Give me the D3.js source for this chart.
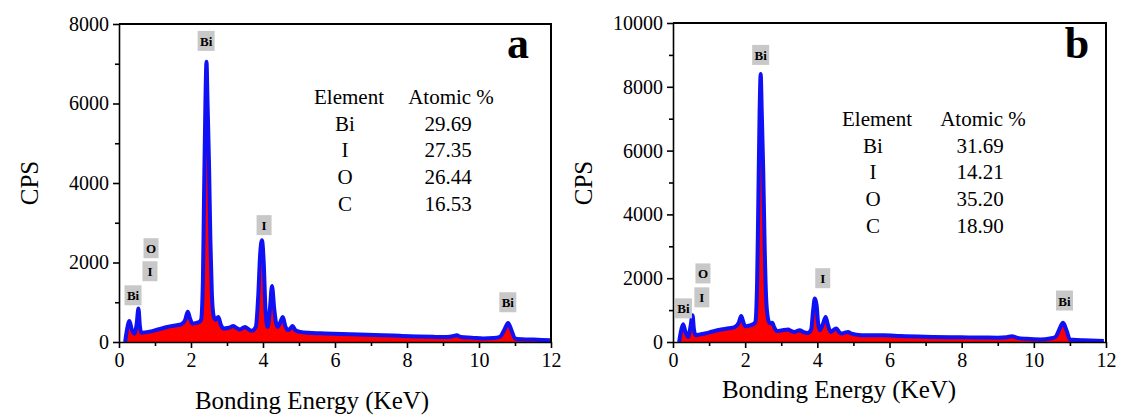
<html>
<head>
<title>EDS spectra</title>
<script src="https://cdn.jsdelivr.net/npm/d3@7"></script>
<style>
body { margin: 0; background: #fff; }
svg { display: block; }
svg text { font-family: "Times New Roman", "Liberation Serif", Tinos, "DejaVu Serif", serif !important; fill: #000; }
.frame { fill: none; stroke: #000; stroke-width: 2px; }
.axis path, .axis line { stroke: #000; stroke-width: 1.6px; }
.axis text { font-size: 20px; }
</style>
</head>
<body>
<svg width="1121" height="419"></svg>
<script>

var svg = d3.select("svg");

// spectrum a
var energyA = [0.17,0.22,0.29,0.35,0.43,0.49,0.54,0.58,0.62,0.70,0.81,0.95,1.10,1.28,1.45,1.60,1.74,1.84,1.91,1.97,
  2.04,2.15,2.23,2.28,2.33,2.36,2.40,2.43,2.46,2.50,2.54,2.58,2.63,2.68,2.76,2.83,2.90,3.05,3.18,3.27,3.36,3.50,
  3.60,3.69,3.80,3.87,3.92,3.97,4.02,4.07,4.13,4.19,4.25,4.31,4.37,4.41,4.49,4.55,4.62,4.69,4.76,4.82,
  4.90,5.03,5.26,5.60,5.95,6.40,6.90,7.34,7.80,8.30,8.73,9.10,9.30,9.38,9.50,9.80,10.12,10.40,10.58,10.70,
  10.81,10.90,11.00,11.20,11.51,11.97];
var cpsA = [0,300,530,330,210,450,840,400,230,240,255,280,320,365,400,420,450,560,760,600,
  465,480,505,560,1500,3500,6000,7050,6000,4500,2500,1200,650,560,630,430,340,360,400,350,315,380,
  320,280,380,1200,2200,2560,2000,800,380,800,1410,850,450,380,520,630,400,300,340,400,
  300,255,230,220,210,195,180,170,155,140,130,125,150,170,125,110,90,100,130,300,
  480,300,90,70,60,45];

// spectrum b
var energyB = [0.17,0.22,0.28,0.35,0.42,0.48,0.54,0.58,0.62,0.75,0.88,1.10,1.34,1.55,1.71,1.82,1.89,1.95,2.00,2.12,
  2.22,2.28,2.33,2.36,2.40,2.43,2.46,2.50,2.54,2.58,2.63,2.68,2.75,2.81,2.87,3.00,3.19,3.28,3.37,3.51,3.62,3.74,
  3.83,3.88,3.93,3.98,4.02,4.07,4.15,4.23,4.29,4.37,4.45,4.53,4.60,4.67,4.76,4.85,4.95,5.22,5.50,5.83,
  6.30,6.80,7.22,7.70,8.20,8.60,9.00,9.25,9.39,9.55,9.80,10.18,10.45,10.60,10.70,10.81,10.91,11.00,11.20,11.38,
  11.94];
var cpsB = [0,330,555,300,160,450,840,400,210,240,265,330,390,430,470,600,815,620,490,520,
  555,620,1800,4000,7200,8400,7200,5400,3000,1400,750,590,600,450,345,360,390,340,315,370,310,285,
  400,950,1360,1150,600,370,550,785,550,315,380,420,320,265,290,315,260,215,210,210,
  190,170,160,150,145,140,135,150,180,130,100,80,110,160,380,600,350,80,60,55,
  35];

// peak tags
var tagTextA = ["Bi","I","O","I","Bi","Bi"];
var tagEnergyA = [2.42,4.03,0.89,0.86,0.39,10.8];
var tagCpsA = [7575,2940,2360,1780,1175,1000];
var tagTextB = ["Bi","I","O","I","Bi","Bi"];
var tagEnergyB = [2.43,4.15,0.83,0.80,0.29,10.85];
var tagCpsB = [9000,2000,2150,1400,1055,1300];

// composition tables
var elements = ["Bi","I","O","C"];
var atomicA = ["29.69","27.35","26.44","16.53"];
var atomicB = ["31.69","14.21","35.20","18.90"];

var xTicks = [0,2,4,6,8,10,12];

function drawPanel(p) {
	var x = d3.scaleLinear().domain([0,12]).range([p.left, p.right]);
	var y = d3.scaleLinear().domain([0,p.ymax]).range([p.bottom, p.top]);
	var g = svg.append("g");

	var pts = p.energy.map(function (e, i) { return [e, p.cps[i]]; });

	var area = d3.area().curve(d3.curveMonotoneX)
		.x(function (d) { return x(d[0]); })
		.y0(y(0))
		.y1(function (d) { return y(d[1]); });
	var line = d3.line().curve(d3.curveMonotoneX)
		.x(function (d) { return x(d[0]); })
		.y(function (d) { return y(d[1]); });

	g.append("path").datum(pts).attr("d", area).style("fill", "#ff0000");
	g.append("path").datum(pts).attr("d", line)
		.style("fill", "none").style("stroke", "#1010f5").style("stroke-width", 4)
		.style("stroke-linejoin", "round");

	// frame top + right
	g.append("path").attr("class","frame")
		.attr("d", "M" + p.left + "," + p.top + "H" + p.right + "V" + p.bottom);

	// minor ticks
	var xa = g.append("g").attr("class","axis").attr("transform","translate(0," + p.bottom + ")")
		.call(d3.axisBottom(x).tickValues(d3.range(1,12,2)).tickSize(4).tickFormat(""));
	xa.select(".domain").remove();
	var ya = g.append("g").attr("class","axis").attr("transform","translate(" + p.left + ",0)")
		.call(d3.axisLeft(y).tickValues(d3.range(1000, p.ymax, 2000)).tickSize(4).tickFormat(""));
	ya.select(".domain").remove();

	g.append("g").attr("class","axis").attr("transform","translate(0," + p.bottom + ")")
		.call(d3.axisBottom(x).tickValues(xTicks).tickSize(6).tickSizeOuter(0).tickPadding(5).tickFormat(d3.format("d")));
	g.append("g").attr("class","axis").attr("transform","translate(" + p.left + ",0)")
		.call(d3.axisLeft(y).tickValues(d3.range(0, p.ymax + 1, 2000)).tickSize(6).tickSizeOuter(0).tickPadding(4).tickFormat(d3.format("d")));

	// axis titles
	g.append("text").attr("x", p.xlabX).attr("y", p.xlabY).attr("text-anchor","middle")
		.style("font-size","25px").text("Bonding Energy (KeV)");
	g.append("text").attr("transform","translate(" + p.ylabX + ",183) rotate(-90)")
		.attr("text-anchor","middle").style("font-size","25px").text("CPS");

	// panel letter
	g.append("text").attr("x", p.letterX).attr("y", 58).attr("text-anchor","middle")
		.style("font-size","44px").style("font-weight","bold").text(p.letter);

	// peak tags
	p.tagText.forEach(function (t, i) {
		var cx = x(p.tagEnergy[i]), cy = y(p.tagCps[i]);
		var w = t == "Bi" ? 17 : 15;
		g.append("rect").attr("x", cx - w/2).attr("y", cy - 10).attr("width", w).attr("height", 20)
			.style("fill", "#c8c8c8");
		g.append("text").attr("x", cx).attr("y", cy + 5).attr("text-anchor","middle")
			.style("font-size","13px").style("font-weight","bold").text(t);
	});

	// table
	var t = g.append("g").style("font-size","21px");
	t.append("text").attr("x", p.col1 + 4).attr("y", p.row0 + 7).attr("text-anchor","middle").text("Element");
	t.append("text").attr("x", p.col2 + 3).attr("y", p.row0 + 7).attr("text-anchor","middle").text("Atomic %");
	elements.forEach(function (el, i) {
		var yy = p.row0 + 7 + (i + 1) * 26.7;
		t.append("text").attr("x", p.col1).attr("y", yy).attr("text-anchor","middle").text(el);
		t.append("text").attr("x", p.col2).attr("y", yy).attr("text-anchor","middle").text(p.atomic[i]);
	});
}

drawPanel({left:119, right:551, top:24, bottom:342, ymax:8000,
	energy:energyA, cps:cpsA, tagText:tagTextA, tagEnergy:tagEnergyA, tagCps:tagCpsA,
	atomic:atomicA, letter:"a", letterX:518, xlabX:312, xlabY:409, ylabX:38,
	col1:345, col2:448, row0:97});

drawPanel({left:673, right:1106, top:23, bottom:342, ymax:10000,
	energy:energyB, cps:cpsB, tagText:tagTextB, tagEnergy:tagEnergyB, tagCps:tagCpsB,
	atomic:atomicB, letter:"b", letterX:1077, xlabX:839, xlabY:398, ylabX:592,
	col1:873, col2:980, row0:119});

</script>
</body>
</html>
